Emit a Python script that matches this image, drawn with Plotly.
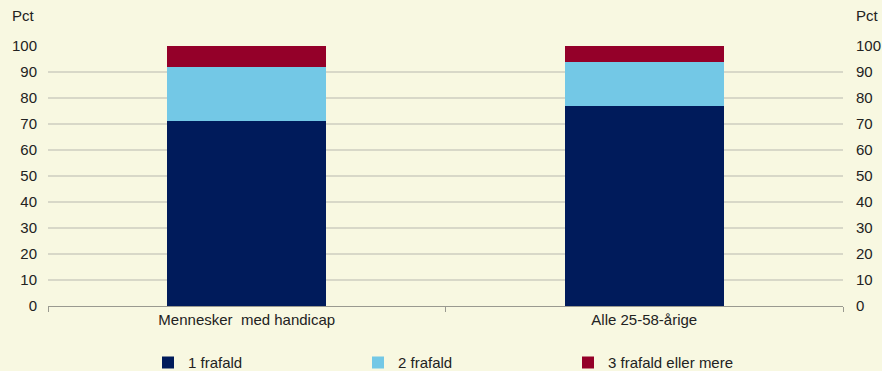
import plotly.graph_objects as go

# Data
categories = ["Mennesker  med handicap", "Alle 25-58-årige"]
series_names = ["1 frafald", "2 frafald", "3 frafald eller mere"]
one_dropout = [71, 77]
two_dropouts = [21, 17]
three_plus = [8, 6]
y_ticks = [0, 10, 20, 30, 40, 50, 60, 70, 80, 90, 100]

COLORS = ["#001B5B", "#73C8E6", "#940029"]
BG = "#F8F8E1"
FONT = "Liberation Sans, Arial, sans-serif"

fig = go.Figure()
for name, vals, col in zip(series_names, [one_dropout, two_dropouts, three_plus], COLORS):
    fig.add_trace(go.Bar(
        x=categories, y=vals, name=name,
        marker=dict(color=col, line=dict(width=0)),
        width=0.4,
    ))

# invisible trace to carry the mirrored right axis
fig.add_trace(go.Scatter(
    x=categories, y=[0, 0], yaxis="y2", mode="markers",
    marker=dict(opacity=0), showlegend=False, hoverinfo="skip",
))

axis_font = dict(family=FONT, size=15, color="#222222")

fig.update_layout(
    width=882, height=371,
    paper_bgcolor=BG, plot_bgcolor=BG,
    barmode="stack",
    margin=dict(l=48, r=39, t=46, b=65),
    font=axis_font,
    xaxis=dict(
        type="category", automargin=False,
        showline=True, linecolor="#9A9A90", linewidth=1,
        ticks="outside", tickson="boundaries", ticklen=5, tickcolor="#9A9A90",
        showgrid=False, tickfont=axis_font,
    ),
    yaxis=dict(
        range=[0, 100], tickvals=y_ticks, automargin=False,
        showgrid=True, gridcolor="#D8D8C8", gridwidth=1.5,
        zeroline=False, ticks="", ticklabelstandoff=10,
        tickfont=axis_font,
    ),
    yaxis2=dict(
        range=[0, 100], tickvals=y_ticks, overlaying="y", side="right",
        automargin=False,
        showgrid=False, zeroline=False, ticks="", ticklabelstandoff=12,
        tickfont=axis_font,
    ),
    legend=dict(
        orientation="h", traceorder="normal",
        xref="container", yref="container",
        x=148 / 882, xanchor="left", y=0.022, yanchor="middle",
        entrywidth=165, itemwidth=30, font=axis_font,
        bgcolor="rgba(0,0,0,0)",
    ),
    showlegend=True,
    annotations=[
        dict(text="Pct", xref="paper", yref="paper", x=-0.048, y=1.077,
             xanchor="left", yanchor="bottom", showarrow=False, font=axis_font),
        dict(text="Pct", xref="paper", yref="paper", x=1.014, y=1.077,
             xanchor="left", yanchor="bottom", showarrow=False, font=axis_font),
    ],
)

fig.write_html("out.html", config={"displayModeBar": False},
               post_script="document.body.style.margin='0';")
